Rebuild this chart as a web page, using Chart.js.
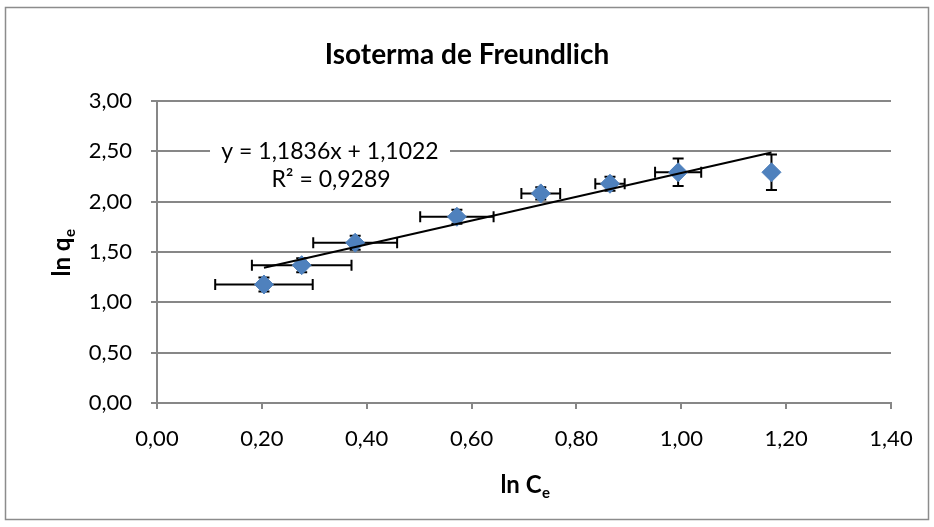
<!DOCTYPE html>
<html>
<head>
<meta charset="utf-8">
<title>Isoterma de Freundlich</title>
<script src="https://cdn.jsdelivr.net/npm/chart.js@4.4.1/dist/chart.umd.min.js"></script>
<style>
  html, body { margin: 0; padding: 0; background: #ffffff; }
  #wrap { width: 934px; height: 527px; position: relative; }
</style>
</head>
<body>
<div id="wrap"><canvas id="chart" width="934" height="527"></canvas></div>
<script>
// Measured points: ln Ce (x) against ln qe (y)
const lnCe = [0.204, 0.276, 0.378, 0.572, 0.732, 0.864, 0.994, 1.172];
const lnQe = [1.177, 1.369, 1.592, 1.850, 2.082, 2.178, 2.292, 2.292];
// Error bar half-widths
const errCe = [0.093, 0.095, 0.080, 0.070, 0.037, 0.028, 0.044, 0];
const errQe = [0.07, 0.07, 0.07, 0.07, 0.06, 0.07, 0.137, 0.177];
// Linear fit
const fitSlope = 1.1836;
const fitIntercept = 1.1022;
const fitR2 = 0.9289;
// Axis ticks
const xTicks = [0, 0.2, 0.4, 0.6, 0.8, 1.0, 1.2, 1.4];
const yTicks = [0, 0.5, 1.0, 1.5, 2.0, 2.5, 3.0];

const FONT = 'Lato, "Open Sans", sans-serif';
const GRID = '#878787';
const comma = (v, d) => v.toFixed(d).replace('.', ',');

const points = lnCe.map((x, i) => ({ x: x, y: lnQe[i] }));
const xMin = Math.min(...lnCe), xMax = Math.max(...lnCe);
const fitLine = [xMin, xMax].map(x => ({ x: x, y: fitSlope * x + fitIntercept }));

const frame = {
  id: 'frame',
  beforeDraw(chart) {
    const ctx = chart.ctx;
    ctx.save();
    ctx.fillStyle = '#ffffff';
    ctx.fillRect(0, 0, chart.width, chart.height);
    ctx.strokeStyle = '#8c8c8c';
    ctx.lineWidth = 1.5;
    ctx.strokeRect(5.5, 7.5, 923, 512);
    ctx.restore();
  }
};

const errorBars = {
  id: 'errorBars',
  beforeDatasetsDraw(chart) {
    const ctx = chart.ctx, xs = chart.scales.x, ys = chart.scales.y;
    const cap = 5.5;
    ctx.save();
    ctx.strokeStyle = '#000000';
    ctx.lineWidth = 2;
    lnCe.forEach((x, i) => {
      const y = lnQe[i];
      const px = xs.getPixelForValue(x), py = ys.getPixelForValue(y);
      ctx.beginPath();
      if (errCe[i] > 0) {
        const l = xs.getPixelForValue(x - errCe[i]), r = xs.getPixelForValue(x + errCe[i]);
        ctx.moveTo(l, py); ctx.lineTo(r, py);
        ctx.moveTo(l, py - cap); ctx.lineTo(l, py + cap);
        ctx.moveTo(r, py - cap); ctx.lineTo(r, py + cap);
      }
      if (errQe[i] > 0) {
        const t = ys.getPixelForValue(y + errQe[i]), b = ys.getPixelForValue(y - errQe[i]);
        ctx.moveTo(px, t); ctx.lineTo(px, b);
        ctx.moveTo(px - cap, t); ctx.lineTo(px + cap, t);
        ctx.moveTo(px - cap, b); ctx.lineTo(px + cap, b);
      }
      ctx.stroke();
    });
    ctx.restore();
  }
};

const texts = {
  id: 'texts',
  afterDraw(chart) {
    const ctx = chart.ctx, xs = chart.scales.x, ys = chart.scales.y, a = chart.chartArea;
    ctx.save();
    ctx.fillStyle = '#000000';
    ctx.textBaseline = 'middle';
    ctx.textAlign = 'center';

    // Title
    ctx.font = 'bold 28px ' + FONT;
    ctx.fillText('Isoterma de Freundlich', 467, 55);

    // Fit equation box
    const ex = xs.getPixelForValue(0.33), ey = ys.getPixelForValue(2.5);
    ctx.fillStyle = '#ffffff';
    ctx.fillRect(ex - 120, ey - 13, 240, 46);
    ctx.fillStyle = '#000000';
    ctx.font = '23px ' + FONT;
    const sign = fitIntercept >= 0 ? ' + ' : ' - ';
    ctx.fillText('y = ' + comma(fitSlope, 4) + 'x' + sign + comma(Math.abs(fitIntercept), 4), ex, ey);
    ctx.fillText('R\u00B2 = ' + comma(fitR2, 4), ex + 1, ey + 28);

    // Axis titles with subscripts
    const drawSub = (main, sub, cx, cy, rot) => {
      ctx.save();
      ctx.translate(cx, cy);
      ctx.rotate(rot);
      ctx.textAlign = 'left';
      ctx.textBaseline = 'alphabetic';
      ctx.font = 'bold 24px ' + FONT;
      const w1 = ctx.measureText(main).width;
      ctx.font = 'bold 15px ' + FONT;
      const w2 = ctx.measureText(sub).width;
      const x0 = -(w1 + w2) / 2;
      ctx.font = 'bold 24px ' + FONT;
      ctx.fillText(main, x0, 8);
      ctx.font = 'bold 15px ' + FONT;
      ctx.fillText(sub, x0 + w1 + 0.5, 13);
      ctx.restore();
    };
    drawSub('ln C', 'e', (a.left + a.right) / 2 + 1, 485, 0);
    drawSub('ln q', 'e', 62, (a.top + a.bottom) / 2 + 1, -Math.PI / 2);
    ctx.restore();
  }
};

new Chart(document.getElementById('chart'), {
  type: 'scatter',
  data: {
    datasets: [
      {
        type: 'line',
        label: 'Linear fit',
        data: fitLine,
        borderColor: '#000000',
        borderWidth: 2,
        pointRadius: 0,
        fill: false,
        tension: 0
      },
      {
        label: 'ln qe',
        data: points,
        pointStyle: 'rectRot',
        pointRadius: 9.5,
        pointHoverRadius: 9.5,
        backgroundColor: '#4F81BD',
        borderColor: '#4F81BD',
        borderWidth: 1
      }
    ]
  },
  options: {
    responsive: false,
    animation: false,
    events: [],
    layout: { padding: { left: 0, top: 101, right: 43, bottom: 0 } },
    plugins: {
      legend: { display: false },
      title: { display: false },
      tooltip: { enabled: false }
    },
    scales: {
      x: {
        type: 'linear',
        min: 0, max: 1.4,
        afterFit(scale) { scale.height = 124; },
        afterBuildTicks(scale) { scale.ticks = xTicks.map(v => ({ value: v })); },
        ticks: {
          font: { family: FONT, size: 22 },
          color: '#000000',
          padding: 17,
          maxRotation: 0,
          callback: v => comma(v, 2)
        },
        grid: { drawOnChartArea: false, drawTicks: true, tickLength: 6, color: GRID, lineWidth: 2 },
        border: { display: true, color: GRID, width: 2 }
      },
      y: {
        type: 'linear',
        min: 0, max: 3,
        afterFit(scale) { scale.width = 157; },
        afterBuildTicks(scale) { scale.ticks = yTicks.map(v => ({ value: v })); },
        ticks: {
          font: { family: FONT, size: 22 },
          color: '#000000',
          padding: 19,
          callback: v => comma(v, 2)
        },
        grid: { drawOnChartArea: true, drawTicks: true, tickLength: 6, color: GRID, lineWidth: 2 },
        border: { display: true, color: GRID, width: 2 }
      }
    }
  },
  plugins: [frame, errorBars, texts]
});
</script>
</body>
</html>
